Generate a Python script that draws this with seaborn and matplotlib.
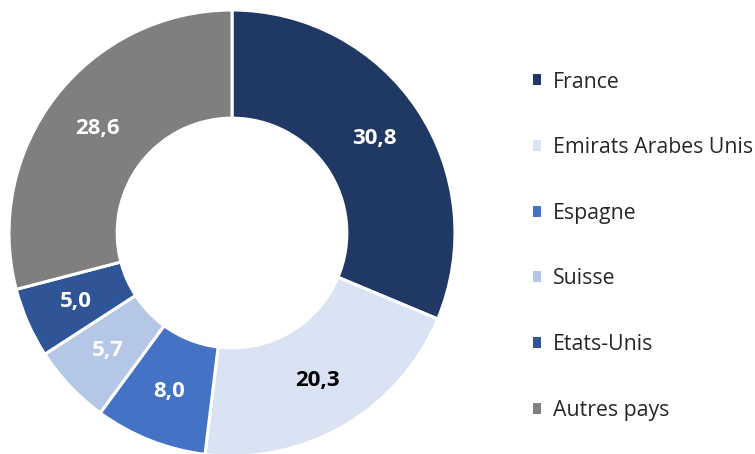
import matplotlib
matplotlib.use("Agg")
import matplotlib.pyplot as plt
import seaborn as sns
import numpy as np
from matplotlib.patches import Patch

countries = ["France", "Emirats Arabes Unis", "Espagne", "Suisse", "Etats-Unis", "Autres pays"]
values = [30.8, 20.3, 8.0, 5.7, 5.0, 28.6]
value_labels = ["30,8", "20,3", "8,0", "5,7", "5,0", "28,6"]
colors = ["#203864", "#DAE3F3", "#4472C4", "#B4C7E7", "#2F5597", "#7F7F7F"]
label_colors = ["white", "black", "white", "white", "white", "white"]

sns.set_theme(style="white")
plt.rcParams['font.family'] = ['Open Sans', 'DejaVu Sans']

fig = plt.figure(figsize=(7.55, 4.54), dpi=100)
ax = fig.add_axes([9/755, (454-456)/454, 446/755, 446/454])
wedges, _ = ax.pie(values, colors=colors, startangle=90, counterclock=False,
                   radius=1.0, wedgeprops=dict(width=0.485, edgecolor="white", linewidth=2.2))
total = sum(values)
cum = 0
for v, lab, lc in zip(values, value_labels, label_colors):
    mid = 90 - (cum + v / 2) / total * 360
    cum += v
    r = 0.765
    ax.text(r * np.cos(np.radians(mid)), r * np.sin(np.radians(mid)), lab,
            ha="center", va="center", fontsize=16, fontweight="bold", color=lc)
ax.set_xlim(-1, 1)
ax.set_ylim(-1, 1)
ax.set_aspect("equal")
ax.axis("off")

handles = [Patch(facecolor=c, edgecolor="none") for c in colors]
leg = fig.legend(handles, countries, loc="upper left", bbox_to_anchor=(524/755, 1 - 63/454),
                 frameon=False, fontsize=15.3, handlelength=0.42, handleheight=0.42,
                 handletextpad=0.55, labelspacing=2.1, borderaxespad=0)
fig.savefig("out.png", dpi=100)
